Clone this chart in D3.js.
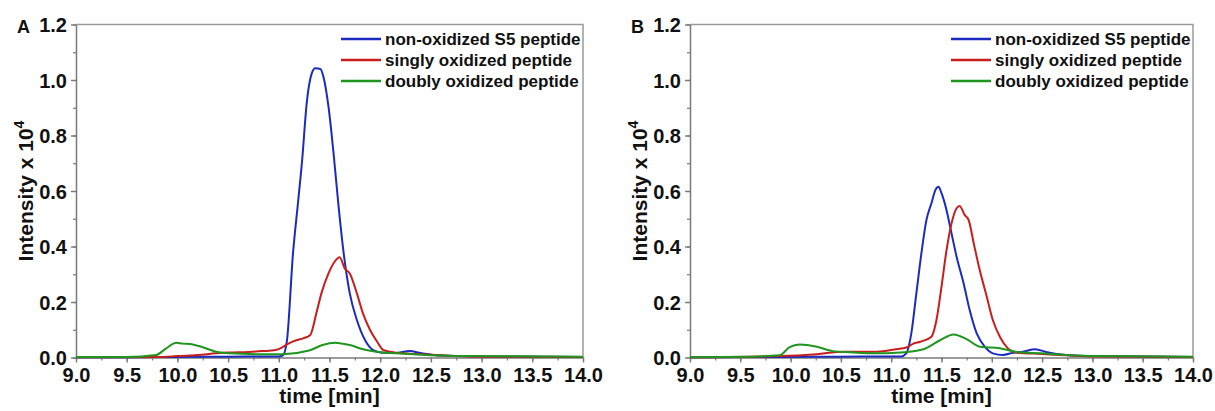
<!DOCTYPE html>
<html>
<head>
<meta charset="utf-8">
<script src="https://cdn.jsdelivr.net/npm/d3@7"></script>
<style>
  html, body { margin: 0; padding: 0; background: #fff; }
  svg { display: block; font-family: "Liberation Sans", Arial, sans-serif; }
</style>
</head>
<body>
<svg id="chart" width="1215" height="411"></svg>
<script>
// Extracted ion chromatograms, intensity in units of 10^4, time in minutes
const seriesNames = ["non-oxidized S5 peptide", "singly oxidized peptide", "doubly oxidized peptide"];
const seriesColors = ["#1b2bbf", "#c81e1e", "#1f961f"];

const xTicks = [9.0, 9.5, 10.0, 10.5, 11.0, 11.5, 12.0, 12.5, 13.0, 13.5, 14.0];
const yTicks = [0.0, 0.2, 0.4, 0.6, 0.8, 1.0, 1.2];

// Panel A
const nonOxA = [[9.0,0.001],[9.5,0.001],[10.0,0.002],[10.5,0.003],[11.0,0.004],[11.04,0.008],[11.08,0.06],[11.14,0.375],[11.19,0.56],[11.23,0.71],[11.275,0.916],[11.325,1.024],[11.36,1.042],[11.41,1.04],[11.44,1.012],[11.49,0.904],[11.54,0.736],[11.59,0.543],[11.64,0.375],[11.70,0.231],[11.77,0.135],[11.85,0.063],[11.93,0.027],[12.03,0.017],[12.15,0.016],[12.29,0.023],[12.4,0.016],[12.6,0.007],[13.0,0.004],[14.0,0.002]];
const singleOxA = [[9.0,0.001],[9.8,0.002],[10.0,0.005],[10.2,0.009],[10.38,0.015],[10.5,0.018],[10.7,0.02],[10.84,0.023],[10.97,0.027],[11.05,0.04],[11.1,0.051],[11.18,0.063],[11.24,0.069],[11.31,0.081],[11.37,0.159],[11.42,0.231],[11.49,0.303],[11.55,0.345],[11.60,0.361],[11.65,0.321],[11.70,0.303],[11.77,0.231],[11.83,0.159],[11.90,0.099],[11.97,0.057],[12.03,0.027],[12.16,0.017],[12.5,0.01],[13.0,0.003],[14.0,0.002]];
const doubleOxA = [[9.0,0.002],[9.5,0.002],[9.79,0.009],[9.89,0.033],[9.99,0.053],[10.05,0.05],[10.12,0.049],[10.25,0.037],[10.38,0.021],[10.51,0.015],[10.81,0.012],[11.04,0.012],[11.3,0.025],[11.43,0.045],[11.56,0.053],[11.62,0.05],[11.70,0.045],[11.83,0.03],[11.96,0.021],[12.16,0.015],[12.5,0.008],[12.8,0.005],[14.0,0.003]];

// Panel B
const nonOxB = [[9.0,0.001],[10.0,0.002],[10.5,0.003],[11.1,0.004],[11.15,0.015],[11.20,0.087],[11.25,0.231],[11.30,0.375],[11.35,0.495],[11.40,0.556],[11.44,0.604],[11.47,0.615],[11.50,0.592],[11.55,0.531],[11.60,0.447],[11.65,0.363],[11.72,0.267],[11.78,0.171],[11.85,0.087],[11.93,0.039],[12.01,0.015],[12.11,0.009],[12.21,0.017],[12.31,0.021],[12.43,0.03],[12.55,0.019],[12.74,0.009],[13.0,0.005],[14.0,0.002]];
const singleOxB = [[9.0,0.001],[9.89,0.005],[10.26,0.012],[10.52,0.021],[10.86,0.021],[11.05,0.03],[11.15,0.036],[11.22,0.05],[11.29,0.057],[11.40,0.075],[11.45,0.135],[11.50,0.255],[11.55,0.387],[11.60,0.484],[11.65,0.538],[11.68,0.546],[11.73,0.514],[11.77,0.495],[11.82,0.412],[11.88,0.315],[11.95,0.219],[12.01,0.135],[12.08,0.075],[12.16,0.033],[12.25,0.017],[12.5,0.013],[13.0,0.004],[14.0,0.002]];
const doubleOxB = [[9.0,0.001],[9.6,0.003],[9.89,0.008],[9.99,0.037],[10.09,0.047],[10.26,0.039],[10.42,0.023],[10.59,0.019],[10.86,0.015],[11.05,0.017],[11.32,0.03],[11.49,0.063],[11.62,0.083],[11.75,0.066],[11.88,0.039],[12.08,0.033],[12.25,0.02],[12.48,0.015],[12.74,0.009],[13.0,0.005],[14.0,0.003]];

const panels = [
  { label: "A", left: 76, right: 583, series: [nonOxA, singleOxA, doubleOxA] },
  { label: "B", left: 690, right: 1193, series: [nonOxB, singleOxB, doubleOxB] }
];

const plotTop = 24.5, plotBottom = 357.5;
const axisColor = "#7a7a7a";
const svg = d3.select("#chart");

panels.forEach(p => {
  const x = d3.scaleLinear().domain([9, 14]).range([p.left, p.right]);
  const y = d3.scaleLinear().domain([0, 1.2]).range([plotBottom, plotTop]);
  const g = svg.append("g");

  // frame (top and right)
  g.append("path")
    .attr("d", `M${p.left},${plotTop}H${p.right}V${plotBottom}`)
    .attr("fill", "none").attr("stroke", "#9a9a9a").attr("stroke-width", 1.5);

  // minor ticks
  const xMinor = d3.range(9, 14.001, 0.25);
  const yMinor = d3.range(0, 1.2001, 0.1);
  g.append("g").attr("transform", `translate(0,${plotBottom})`)
    .call(d3.axisBottom(x).tickValues(xMinor).tickSize(3).tickFormat(""))
    .call(a => a.select(".domain").remove())
    .selectAll("line").attr("stroke", axisColor).attr("stroke-width", 1.2);
  g.append("g").attr("transform", `translate(${p.left},0)`)
    .call(d3.axisLeft(y).tickValues(yMinor).tickSize(3).tickFormat(""))
    .call(a => a.select(".domain").remove())
    .selectAll("line").attr("stroke", axisColor).attr("stroke-width", 1.2);

  // major axes
  const xAxis = g.append("g").attr("transform", `translate(0,${plotBottom})`)
    .call(d3.axisBottom(x).tickValues(xTicks).tickSize(5).tickSizeOuter(0).tickPadding(8).tickFormat(d3.format(".1f")));
  const yAxis = g.append("g").attr("transform", `translate(${p.left},0)`)
    .call(d3.axisLeft(y).tickValues(yTicks).tickSize(5).tickSizeOuter(0).tickPadding(4).tickFormat(d3.format(".1f")));
  [xAxis, yAxis].forEach(a => {
    a.select(".domain").attr("stroke", axisColor).attr("stroke-width", 1.5);
    a.selectAll(".tick line").attr("stroke", axisColor).attr("stroke-width", 1.4);
    a.selectAll(".tick text").attr("fill", "#111").attr("font-size", 20)
      .attr("font-weight", "bold").attr("font-family", "Liberation Sans, Arial, sans-serif");
  });
  xAxis.selectAll(".tick text").attr("dy", null).attr("y", 24.5);
  yAxis.selectAll(".tick text").attr("dy", "0.36em");

  // data lines
  const line = d3.line().curve(d3.curveMonotoneX).x(d => x(d[0])).y(d => y(d[1]));
  p.series.forEach((s, i) => {
    g.append("path").datum(s)
      .attr("d", line)
      .attr("fill", "none")
      .attr("stroke", seriesColors[i])
      .attr("stroke-width", 2)
      .attr("stroke-linejoin", "round");
  });

  // legend
  const legendBaselines = [45, 66, 87];
  seriesNames.forEach((name, i) => {
    const ly = legendBaselines[i] - 6;
    g.append("line")
      .attr("x1", p.right - 242).attr("x2", p.right - 202)
      .attr("y1", ly).attr("y2", ly)
      .attr("stroke", seriesColors[i]).attr("stroke-width", 2.5);
    g.append("text")
      .attr("x", p.right - 198).attr("y", legendBaselines[i])
      .attr("font-size", 17).attr("font-weight", "bold").attr("fill", "#111")
      .text(name);
  });

  // axis titles
  g.append("text")
    .attr("x", (p.left + p.right) / 2).attr("y", 403)
    .attr("text-anchor", "middle").attr("font-size", 21).attr("font-weight", "bold").attr("fill", "#111")
    .text("time [min]");

  const yt = g.append("text")
    .attr("transform", `translate(${p.left - 43},${(plotTop + plotBottom) / 2}) rotate(-90)`)
    .attr("text-anchor", "middle").attr("font-size", 21).attr("font-weight", "bold").attr("fill", "#111");
  yt.append("tspan").text("Intensity x 10");
  yt.append("tspan").attr("font-size", 14).attr("dy", -9).text("4");

  // panel letter
  g.append("text")
    .attr("x", p.left - 59).attr("y", 33)
    .attr("font-size", 18).attr("font-weight", "bold").attr("fill", "#111")
    .text(p.label);
});
</script>
</body>
</html>
